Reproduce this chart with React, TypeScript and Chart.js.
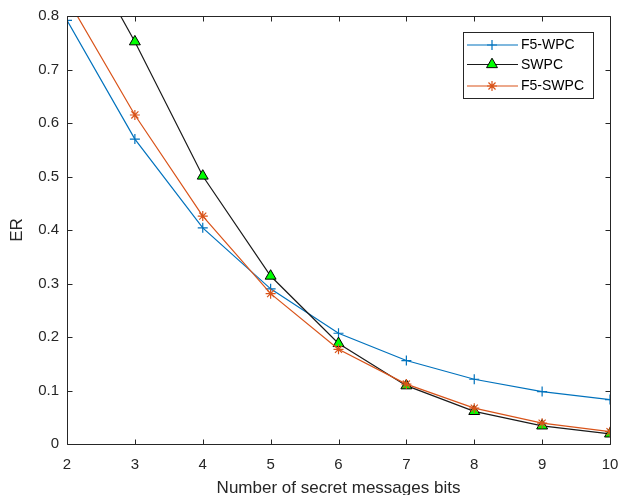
import React, { useEffect, useRef } from "react";
import { Chart, registerables } from "chart.js";

Chart.register(...registerables);

const bits = [2, 3, 4, 5, 6, 7, 8, 9, 10];
const f5wpc = [0.792, 0.57, 0.404, 0.29, 0.207, 0.156, 0.121, 0.098, 0.083];
const swpc = [0.98, 0.752, 0.501, 0.314, 0.188, 0.109, 0.061, 0.034, 0.019];
const f5swpc = [0.833, 0.615, 0.426, 0.281, 0.177, 0.112, 0.067, 0.039, 0.023];
const seriesNames = ["F5-WPC", "SWPC", "F5-SWPC"];

const FONT = "'Liberation Sans', Arial, Helvetica, sans-serif";
const AXIS = "#262626";
const BLUE = "#0072BD";
const BLACK = "#1a1a1a";
const ORANGE = "#D95319";
const GREEN = "#00ff00";

function drawMarker(ctx: CanvasRenderingContext2D, kind: string, x: number, y: number) {
  ctx.save();
  if (kind === "cross") {
    ctx.strokeStyle = BLUE;
    ctx.lineWidth = 1.2;
    ctx.beginPath();
    ctx.moveTo(x - 5, y);
    ctx.lineTo(x + 5, y);
    ctx.moveTo(x, y - 5);
    ctx.lineTo(x, y + 5);
    ctx.stroke();
  } else if (kind === "triangle") {
    const r = 6.3;
    ctx.fillStyle = GREEN;
    ctx.strokeStyle = "#000";
    ctx.lineWidth = 1;
    ctx.beginPath();
    for (let i = 0; i < 3; i++) {
      const a = (i * 2 * Math.PI) / 3;
      const px = x + Math.sin(a) * r;
      const py = y - Math.cos(a) * r;
      if (i === 0) ctx.moveTo(px, py);
      else ctx.lineTo(px, py);
    }
    ctx.closePath();
    ctx.fill();
    ctx.stroke();
  } else {
    const r = 5;
    ctx.strokeStyle = ORANGE;
    ctx.lineWidth = 1.2;
    ctx.beginPath();
    ctx.moveTo(x - r, y);
    ctx.lineTo(x + r, y);
    ctx.moveTo(x, y - r);
    ctx.lineTo(x, y + r);
    const d = r * Math.SQRT1_2;
    ctx.moveTo(x - d, y - d);
    ctx.lineTo(x + d, y + d);
    ctx.moveTo(x - d, y + d);
    ctx.lineTo(x + d, y - d);
    ctx.stroke();
  }
  ctx.restore();
}

const framePlugin = {
  id: "matlabFrame",
  afterDraw(chart: any) {
    const { ctx, chartArea } = chart;
    const { left, right, top, bottom } = chartArea;
    const xs = chart.scales.x;
    const ys = chart.scales.y;
    ctx.save();
    ctx.strokeStyle = AXIS;
    ctx.lineWidth = 1;
    const L = Math.round(left) + 0.5;
    const R = Math.round(right) + 0.5;
    const T = Math.round(top) + 0.5;
    const B = Math.round(bottom) + 0.5;
    ctx.beginPath();
    ctx.rect(L, T, R - L, B - T);
    ctx.stroke();
    ctx.beginPath();
    xs.ticks.forEach((t: any) => {
      const px = Math.round(xs.getPixelForValue(t.value)) + 0.5;
      ctx.moveTo(px, B);
      ctx.lineTo(px, B - 5);
      ctx.moveTo(px, T);
      ctx.lineTo(px, T + 5);
    });
    ys.ticks.forEach((t: any) => {
      const py = Math.round(ys.getPixelForValue(t.value)) + 0.5;
      ctx.moveTo(L, py);
      ctx.lineTo(L + 5, py);
      ctx.moveTo(R, py);
      ctx.lineTo(R - 5, py);
    });
    ctx.stroke();

    // legend
    const bx = 463.5, by = 32.5, bw = 130, bh = 66;
    ctx.fillStyle = "#fff";
    ctx.fillRect(bx, by, bw, bh);
    ctx.strokeStyle = AXIS;
    ctx.strokeRect(bx, by, bw, bh);
    const rows = [45, 64.5, 86];
    const colors = [BLUE, BLACK, ORANGE];
    const kinds = ["cross", "triangle", "star"];
    ctx.font = "14px " + FONT;
    ctx.textBaseline = "middle";
    ctx.textAlign = "left";
    rows.forEach((ry, i) => {
      ctx.strokeStyle = colors[i];
      ctx.lineWidth = 1.2;
      ctx.beginPath();
      ctx.moveTo(467, ry);
      ctx.lineTo(518, ry);
      ctx.stroke();
      drawMarker(ctx, kinds[i], 492, ry);
      ctx.fillStyle = "#000";
      ctx.fillText(seriesNames[i], 521, ry + 0.5);
    });
    ctx.restore();
  },
};

const zeroPad = (s: any) => {
  s.paddingLeft = 0;
  s.paddingRight = 0;
  s.paddingTop = 0;
  s.paddingBottom = 0;
};

export default function App() {
  const ref = useRef<HTMLCanvasElement | null>(null);
  useEffect(() => {
    document.body.style.margin = "0";
    const canvas = ref.current;
    if (!canvas) return;
    const mk = (vals: number[]) => bits.map((b, i) => ({ x: b, y: vals[i] }));
    const chart = new Chart(canvas, {
      type: "line",
      data: {
        datasets: [
          {
            label: seriesNames[0],
            data: mk(f5wpc),
            borderColor: BLUE,
            backgroundColor: BLUE,
            borderWidth: 1.2,
            pointStyle: "cross",
            pointRadius: 5,
            pointBorderWidth: 1.2,
            pointBorderColor: BLUE,
            order: 3,
          },
          {
            label: seriesNames[1],
            data: mk(swpc),
            borderColor: BLACK,
            backgroundColor: GREEN,
            borderWidth: 1.2,
            pointStyle: "triangle",
            pointRadius: 6.3,
            pointBorderWidth: 1,
            pointBorderColor: "#000",
            pointBackgroundColor: GREEN,
            order: 2,
          },
          {
            label: seriesNames[2],
            data: mk(f5swpc),
            borderColor: ORANGE,
            backgroundColor: ORANGE,
            borderWidth: 1.2,
            pointStyle: "star",
            pointRadius: 5,
            pointBorderWidth: 1.2,
            pointBorderColor: ORANGE,
            order: 1,
          },
        ],
      },
      options: {
        responsive: false,
        animation: false,
        layout: { padding: { left: 0, right: 10, top: 16, bottom: 0 } },
        plugins: { legend: { display: false }, tooltip: { enabled: false } },
        elements: { line: { tension: 0 } },
        scales: {
          x: {
            type: "linear",
            min: 2,
            max: 10,
            grid: { display: false, drawTicks: false },
            border: { display: false },
            ticks: {
              stepSize: 1,
              padding: 12,
              color: AXIS,
              font: { family: FONT, size: 15 },
              maxRotation: 0,
            },
            title: {
              display: true,
              text: "Number of secret messages bits",
              color: AXIS,
              font: { family: FONT, size: 17, lineHeight: 0.82 },
              padding: { top: 0, bottom: 0 },
            },
            afterFit: (s: any) => {
              s.height = 51;
              zeroPad(s);
            },
          },
          y: {
            min: 0,
            max: 0.8,
            grid: { display: false, drawTicks: false },
            border: { display: false },
            ticks: {
              stepSize: 0.1,
              padding: 8,
              color: AXIS,
              font: { family: FONT, size: 15 },
              callback: (v: any) => (Number(v) === 0 ? "0" : Number(v).toFixed(1)),
            },
            title: {
              display: true,
              text: "ER",
              color: AXIS,
              font: { family: FONT, size: 17, lineHeight: 1 },
              padding: { top: 9, bottom: 0 },
            },
            afterFit: (s: any) => {
              s.width = 67;
              zeroPad(s);
            },
          },
        },
      },
      plugins: [framePlugin],
    });
    return () => chart.destroy();
  }, []);
  return (
    <div style={{ position: "absolute", left: 0, top: 0, width: 620, height: 495 }}>
      <canvas ref={ref} width={620} height={495} style={{ display: "block" }} />
    </div>
  );
}
